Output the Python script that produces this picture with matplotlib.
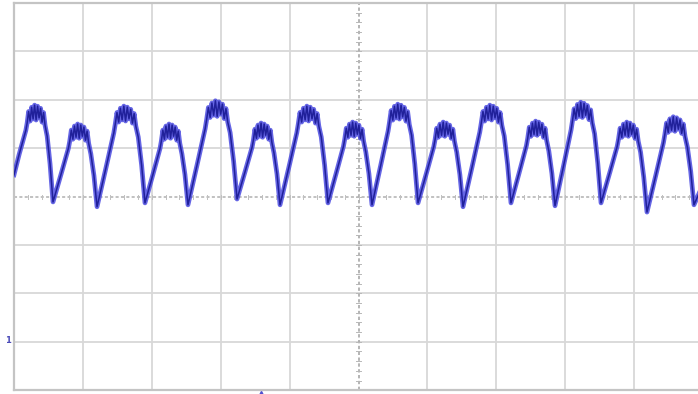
import matplotlib
matplotlib.use("Agg")
import matplotlib.pyplot as plt

# ---- data (time in divisions, level in divisions) ----
start_t, start_v = 0.0, 0.45
end_t, end_v = 10.0, 0.25

min_t = [0.566, 1.205, 1.901, 2.525, 3.237, 3.861, 4.557, 5.196,
         5.864, 6.517, 7.213, 7.852, 8.520, 9.187, 9.869]
min_v = [-0.11, -0.21, -0.13, -0.17, -0.05, -0.17, -0.13, -0.17,
         -0.13, -0.21, -0.13, -0.19, -0.13, -0.32, -0.17]

# plateau level (lower edge of ripple band) and ripple tips of each hump
peak_body = [1.45, 1.08, 1.43, 1.08, 1.52, 1.10, 1.43, 1.12,
             1.47, 1.12, 1.45, 1.14, 1.50, 1.12, 1.22]
peak_tip = [1.89, 1.50, 1.87, 1.50, 1.98, 1.52, 1.87, 1.54,
            1.91, 1.54, 1.89, 1.56, 1.95, 1.54, 1.65]

# ripple pattern seen on the plateaus (fraction between body and tip)
ripple = [0.15, 0.7, 0.25, 0.9, 0.35, 1.0, 0.3, 0.95, 0.4, 0.85,
          0.2, 0.65, 0.05]

# hump outline (fraction of hump width, fraction of rise to body)
rise_shape_t = [0.19, 0.35]
rise_shape_v = [0.50, 0.93]

x_divs = 10
y_divs = 8

# ---- build trace ----
ts, vs = [start_t], [start_v]
prev_t = -0.04   # first hump is already rising at screen start
prev_v = 0.30
for i in range(len(min_t)):
    a, b = prev_t, min_t[i]
    w = b - a
    body = peak_body[i]
    for ft, fv in zip(rise_shape_t, rise_shape_v):
        tt = a + ft * w
        if tt > start_t:
            ts.append(tt)
            vs.append(prev_v + fv * (body - prev_v))
    p0, p1 = a + 0.38 * w, a + 0.81 * w
    n = len(ripple)
    for k, f in enumerate(ripple):
        tt = p0 + (p1 - p0) * k / (n - 1)
        if tt > start_t:
            ts.append(tt)
            vs.append(body + f * (peak_tip[i] - body))
    ts += [a + 0.86 * w, a + 0.93 * w, b]
    vs += [body - 0.2, 0.5 * (body + min_v[i]), min_v[i]]
    prev_t, prev_v = b, min_v[i]
# last partial hump rising at the right edge
ts.append(end_t)
vs.append(end_v)

# ---- figure ----
fig = plt.figure(figsize=(6.98, 3.94), dpi=100)
fig.patch.set_facecolor("white")
ax = fig.add_axes([14 / 698, 3.8 / 394, 689 / 698, 387.2 / 394])
ax.set_xlim(0, x_divs)
ax.set_ylim(-y_divs / 2, y_divs / 2)
ax.set_facecolor("white")

for gx in range(1, x_divs):
    if gx == x_divs // 2:
        continue
    ax.axvline(gx, color="#d8d8d8", lw=1.3, zorder=1)
for gy in range(-y_divs // 2 + 1, y_divs // 2):
    if gy == 0:
        continue
    ax.axhline(gy, color="#d8d8d8", lw=1.3, zorder=1)

# centre cross with minor ticks
ax.axvline(x_divs / 2, color="#a8a8a8", lw=1.2, ls=(0, (2, 1.5)), zorder=2)
ax.axhline(0, color="#b0b0b0", lw=1.1, ls=(0, (2, 1.5)), zorder=2)
for k in range(-y_divs * 5 // 2, y_divs * 5 // 2 + 1):
    ax.plot([x_divs / 2 - 0.03, x_divs / 2 + 0.03], [k * 0.2, k * 0.2],
            color="#b8b8b8", lw=0.7, zorder=2)
for k in range(0, x_divs * 5 + 1):
    ax.plot([k * 0.2, k * 0.2], [-0.04, 0.04], color="#c0c0c0", lw=0.7, zorder=2)

for s in ax.spines.values():
    s.set_color("#c4c4c4")
    s.set_linewidth(1.6)
ax.set_xticks([])
ax.set_yticks([])

# trace
ax.plot(ts, vs, color="#4a4ae0", lw=3.4, alpha=0.85, solid_joinstyle="round",
        zorder=4)
ax.plot(ts, vs, color="#20209a", lw=1.1, zorder=5)

# channel / trigger markers
ax.text(-0.085, -2.98, "1", color="#4a4ab8", fontsize=6, ha="center",
        va="center", clip_on=False, fontweight="bold")
ax.plot([3.58], [-4.05], marker="^", color="#5050d0", ms=3, clip_on=False)

fig.savefig("out.png", dpi=100, facecolor="white")
